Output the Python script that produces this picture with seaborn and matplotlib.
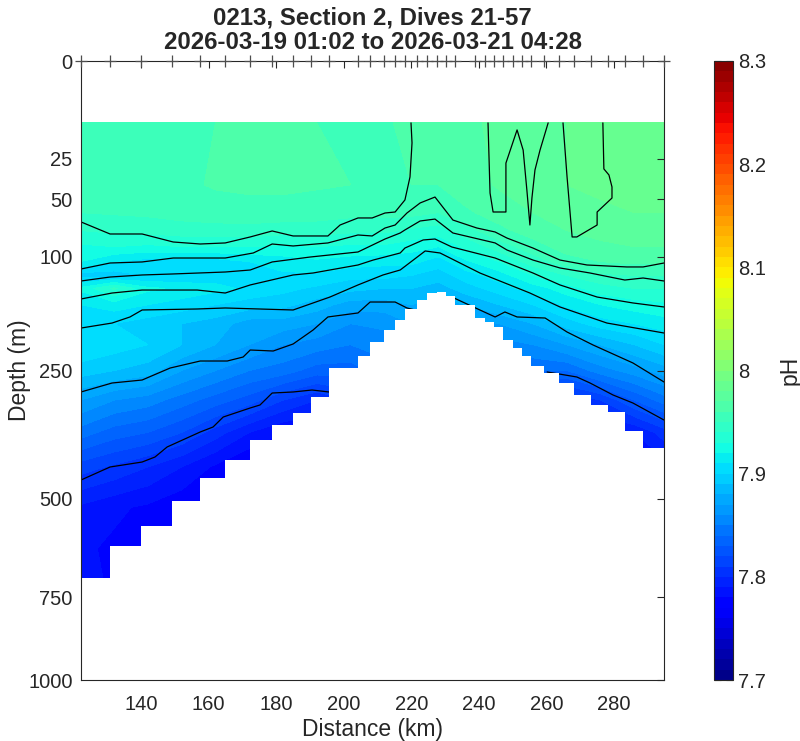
import numpy as np
import pandas as pd
import matplotlib
matplotlib.use('Agg')
import matplotlib.pyplot as plt
from matplotlib.ticker import FuncFormatter
import seaborn as sns

# dive positions along the section (km) and seafloor depth under each dive step (m)
dive_km = [122.2, 130.8, 140.0, 149.2, 157.5, 164.9, 172.3, 178.8, 185.0, 190.3,
           195.6, 204.2, 207.8, 211.9, 215.2, 218.1, 221.7, 224.6, 227.6, 230.3,
           232.9, 238.9, 241.8, 244.5, 247.1, 250.1, 252.8, 255.4, 259.3, 263.7,
           268.1, 273.2, 278.2, 283.2, 288.6, 294.8]
bottom_m = [698, 614, 564, 505, 454, 416, 375, 346, 323, 295, 246, 227, 206, 189,
            175, 161, 149, 141, 139, 144, 155, 172, 178, 185, 203, 215, 227, 243,
            254, 271, 291, 309, 322, 357, 391]

# pH section: one profile per distance column, values at ph_depth
ph_km = [122, 132, 142, 152, 162, 172, 182, 192, 202, 212, 220, 228, 236, 246, 256,
         266, 276, 286, 295]
ph_depth = [10, 40, 60, 75, 90, 105, 120, 135, 155, 180, 210, 250, 300, 360, 430,
            520, 620, 720]
ph_profiles = [
    [7.955, 7.955, 7.950, 7.940, 7.928, 7.920, 7.895, 7.922, 7.910, 7.905, 7.910, 7.895, 7.870, 7.845, 7.815, 7.788, 7.782, 7.785],
    [7.955, 7.955, 7.951, 7.942, 7.930, 7.910, 7.895, 7.942, 7.915, 7.900, 7.905, 7.890, 7.860, 7.835, 7.808, 7.782, 7.778, 7.778],
    [7.956, 7.956, 7.952, 7.943, 7.928, 7.905, 7.900, 7.922, 7.910, 7.895, 7.900, 7.885, 7.855, 7.830, 7.800, 7.778, 7.775, 7.775],
    [7.957, 7.958, 7.954, 7.945, 7.930, 7.905, 7.900, 7.918, 7.905, 7.890, 7.890, 7.870, 7.845, 7.820, 7.790, 7.772, 7.772, 7.772],
    [7.960, 7.961, 7.955, 7.946, 7.930, 7.905, 7.905, 7.913, 7.900, 7.885, 7.880, 7.860, 7.835, 7.805, 7.778, 7.768, 7.768, 7.768],
    [7.961, 7.962, 7.956, 7.946, 7.930, 7.910, 7.908, 7.908, 7.895, 7.875, 7.870, 7.850, 7.825, 7.790, 7.768, 7.765, 7.765, 7.765],
    [7.961, 7.962, 7.956, 7.944, 7.928, 7.915, 7.908, 7.903, 7.893, 7.875, 7.860, 7.845, 7.810, 7.780, 7.765, 7.765, 7.765, 7.765],
    [7.960, 7.961, 7.955, 7.944, 7.930, 7.918, 7.908, 7.898, 7.885, 7.870, 7.855, 7.835, 7.800, 7.778, 7.768, 7.765, 7.765, 7.765],
    [7.959, 7.960, 7.953, 7.942, 7.928, 7.915, 7.903, 7.893, 7.875, 7.860, 7.850, 7.835, 7.810, 7.790, 7.775, 7.770, 7.770, 7.770],
    [7.959, 7.959, 7.953, 7.942, 7.928, 7.913, 7.903, 7.890, 7.875, 7.862, 7.855, 7.845, 7.820, 7.800, 7.785, 7.780, 7.780, 7.780],
    [7.962, 7.960, 7.953, 7.938, 7.924, 7.913, 7.900, 7.890, 7.880, 7.870, 7.860, 7.850, 7.830, 7.810, 7.795, 7.790, 7.790, 7.790],
    [7.966, 7.960, 7.950, 7.935, 7.920, 7.905, 7.895, 7.885, 7.875, 7.865, 7.855, 7.845, 7.830, 7.810, 7.795, 7.790, 7.790, 7.790],
    [7.968, 7.966, 7.958, 7.946, 7.932, 7.918, 7.905, 7.895, 7.880, 7.865, 7.855, 7.845, 7.825, 7.805, 7.790, 7.785, 7.785, 7.785],
    [7.972, 7.971, 7.965, 7.957, 7.945, 7.930, 7.915, 7.905, 7.890, 7.870, 7.855, 7.840, 7.815, 7.795, 7.785, 7.780, 7.780, 7.780],
    [7.975, 7.975, 7.970, 7.965, 7.955, 7.945, 7.930, 7.915, 7.900, 7.880, 7.860, 7.840, 7.810, 7.790, 7.780, 7.780, 7.780, 7.780],
    [7.980, 7.980, 7.975, 7.970, 7.965, 7.955, 7.940, 7.925, 7.912, 7.895, 7.870, 7.840, 7.800, 7.785, 7.780, 7.780, 7.780, 7.780],
    [7.982, 7.982, 7.978, 7.973, 7.968, 7.960, 7.948, 7.935, 7.920, 7.905, 7.880, 7.855, 7.810, 7.790, 7.785, 7.785, 7.785, 7.785],
    [7.983, 7.983, 7.980, 7.975, 7.970, 7.962, 7.950, 7.940, 7.925, 7.910, 7.890, 7.865, 7.830, 7.790, 7.785, 7.785, 7.785, 7.785],
    [7.983, 7.983, 7.980, 7.975, 7.970, 7.962, 7.950, 7.940, 7.928, 7.915, 7.900, 7.875, 7.845, 7.805, 7.785, 7.780, 7.780, 7.780],
]

# isopycnal depths (km, m) read along the section
A_km = [122.2, 130.8, 140.3, 149.5, 157.5, 164.9, 172.3, 178.8, 185.0, 195.3, 198.9, 204.2, 208.4, 212.2, 215.2, 218.1, 219.6, 220.2, 219.9]
A_m = [67.6, 78.1, 78.1, 85.5, 87.4, 86.4, 80.8, 75.4, 79.9, 79.9, 70.2, 64.3, 64.3, 60.3, 59.5, 50.4, 35.1, 17.5, 10.0]
B_km = [122.2, 130.8, 140.3, 149.5, 164.9, 173.2, 178.8, 185.0, 195.3, 204.2, 208.4, 212.2, 215.2, 218.7, 222.6, 227.0, 232.3, 239.4, 244.8, 248.3, 256.0, 264.0, 272.0, 283.8, 288.6, 294.8]
B_m = [112.9, 106.5, 105.4, 101.3, 101.3, 96.2, 87.4, 89.3, 86.4, 79.0, 79.9, 72.8, 70.2, 60.3, 52.6, 48.3, 66.0, 72.8, 76.3, 81.8, 91.3, 103.4, 108.6, 110.7, 110.7, 106.5]
C_km = [122.2, 130.8, 140.3, 149.2, 164.9, 172.3, 178.8, 190.0, 204.2, 212.2, 216.7, 218.1, 222.6, 227.0, 232.3, 244.8, 248.3, 256.0, 264.0, 272.9, 283.2, 288.6, 294.8]
C_m = [126.3, 121.8, 119.5, 118.4, 116.2, 114.0, 105.4, 100.3, 95.2, 82.7, 77.2, 74.5, 66.8, 65.2, 77.2, 86.4, 93.2, 103.4, 111.8, 117.3, 125.2, 122.9, 126.3]
D_km = [122.2, 131.4, 140.3, 156.6, 164.9, 172.3, 185.0, 190.9, 204.2, 208.7, 216.7, 218.1, 223.5, 227.0, 232.0, 244.8, 256.0, 264.0, 275.0, 285.6, 294.8]
D_m = [147.8, 140.5, 136.9, 136.9, 140.5, 130.9, 119.5, 117.3, 108.6, 103.4, 96.2, 91.3, 83.6, 82.7, 90.3, 101.3, 117.3, 130.9, 145.4, 152.8, 157.9]
E_km = [122.2, 131.4, 136.7, 140.3, 156.6, 164.9, 185.0, 195.9, 204.2, 211.6, 216.7, 224.1, 228.5, 240.3, 255.1, 264.0, 277.9, 294.8]
E_m = [186.1, 179.2, 171.0, 161.8, 160.5, 159.2, 161.8, 145.4, 130.9, 119.5, 114.0, 94.2, 96.2, 117.3, 140.5, 157.9, 179.2, 193.1]
F1_km = [122.2, 131.4, 140.3, 148.6, 157.5, 165.5, 170.2, 172.3, 179.1, 185.0, 190.9, 195.3, 204.2, 207.8, 215.2, 218.7, 221.1]
F1_m = [285.9, 270.6, 265.6, 246.0, 234.9, 234.9, 228.7, 218.0, 219.5, 209.0, 188.9, 171.0, 165.7, 151.6, 151.6, 159.2, 161.8]
F2_km = [232.0, 240.3, 244.8, 247.7, 251.3, 259.6, 266.1, 273.8, 285.6, 294.8]
F2_m = [145.4, 161.8, 171.0, 164.4, 171.0, 172.4, 191.7, 210.5, 238.0, 268.9]
G1_km = [122.2, 130.8, 140.3, 144.1, 147.7, 157.5, 161.3, 164.3, 172.3, 175.2, 178.8, 185.0, 190.6, 195.6]
G1_m = [458.2, 430.2, 419.7, 409.3, 388.8, 359.2, 349.6, 330.8, 314.2, 308.8, 287.7, 285.9, 282.5, 285.9]
G2_km = [260.2, 269.0, 272.9, 279.7, 285.6, 294.8]
G2_m = [252.4, 260.6, 270.6, 291.1, 305.3, 336.4]
# light-water pockets in the mixed layer
P1_km = [242.7, 243.3, 244.2, 248.0, 248.0, 251.3, 253.1, 254.2, 255.1, 255.7, 256.6, 258.1, 260.5]
P1_m = [10.0, 45.5, 59.5, 59.5, 27.2, 12.4, 20.7, 43.4, 70.2, 49.0, 31.0, 20.7, 10.0]
P2_km = [264.9, 266.1, 267.6, 269.0, 275.0, 275.0, 279.4, 279.4, 278.5, 277.0, 276.7]
P2_m = [10.0, 35.1, 80.8, 80.8, 70.2, 59.5, 49.0, 41.4, 33.9, 30.4, 10.0]

depth_ticks = [0, 25, 50, 100, 250, 500, 750, 1000]
dist_ticks = [140, 160, 180, 200, 220, 240, 260, 280]
ph_ticks = [7.7, 7.8, 7.9, 8.0, 8.1, 8.2, 8.3]

sns.set_style('white')
plt.rcParams['font.family'] = ['Liberation Sans', 'DejaVu Sans']
grey = '0.15'

fig = plt.figure(figsize=(8, 7.41), dpi=100)
ax = fig.add_axes([81 / 800, 61 / 741, 583 / 800, 619 / 741])
cax = fig.add_axes([714 / 800, 61 / 741, 19 / 800, 619 / 741])

ax.set_yscale('function', functions=(lambda d: np.sqrt(np.maximum(d, 0)), lambda s: s ** 2))

X, Y = np.meshgrid(ph_km, ph_depth)
Z = np.array(ph_profiles).T
levels = np.round(np.arange(7.7, 8.3001, 0.01), 2)
cf = ax.contourf(X, Y, Z, levels=levels, cmap='jet', vmin=7.7, vmax=8.3, zorder=1)

lines = {'A': (A_km, A_m), 'B': (B_km, B_m), 'C': (C_km, C_m), 'D': (D_km, D_m),
         'E': (E_km, E_m), 'F1': (F1_km, F1_m), 'F2': (F2_km, F2_m),
         'G1': (G1_km, G1_m), 'G2': (G2_km, G2_m), 'P1': (P1_km, P1_m), 'P2': (P2_km, P2_m)}
df = pd.concat([pd.DataFrame({'km': k, 'depth': d, 'line': n}) for n, (k, d) in lines.items()])
sns.lineplot(data=df, x='km', y='depth', units='line', estimator=None, sort=False,
             color='black', lw=0.9, legend=False, ax=ax, zorder=2.1)

# seafloor below each dive
ax.fill_between(dive_km, bottom_m + [bottom_m[-1]], 1000, step='post',
                color='white', lw=0, zorder=2.2)

# dive locations along the top
ax.plot(dive_km, [0] * len(dive_km), '+', ms=9, mew=0.9, color='0.3',
        clip_on=False, zorder=3)

ax.set_xlim(dive_km[0], dive_km[-1])
ax.set_ylim(1000, 0)
ax.set_xticks(dist_ticks)
ax.set_yticks(depth_ticks)
ax.set_axisbelow(False)
ax.tick_params(direction='in', top=True, right=True, length=5, width=0.8,
               labelsize=14.5, colors=grey, pad=6)
ax.tick_params(axis='x', pad=11)
for s in ax.spines.values():
    s.set_color(grey)
    s.set_linewidth(0.8)
ax.set_xlabel('Distance (km)', fontsize=16.5, color=grey, labelpad=3)
ax.set_ylabel('Depth (m)', fontsize=16.5, color=grey, labelpad=-2)
ax.set_title('0213, Section 2, Dives 21-57\n2026-03-19 01:02 to 2026-03-21 04:28',
             fontsize=17.3, fontweight='bold', linespacing=1.1, pad=8.5)

cbar = fig.colorbar(cf, cax=cax, ticks=ph_ticks)
cbar.ax.yaxis.set_major_formatter(FuncFormatter(lambda v, p: '%g' % round(v, 2)))
cax.tick_params(direction='in', left=True, right=True, length=5, width=0.8,
                labelsize=14.5, colors=grey)
cbar.outline.set_edgecolor(grey)
cbar.outline.set_linewidth(0.8)
cbar.set_label('pH', fontsize=16.5, color=grey, labelpad=9)

fig.savefig('out.png', dpi=100)
